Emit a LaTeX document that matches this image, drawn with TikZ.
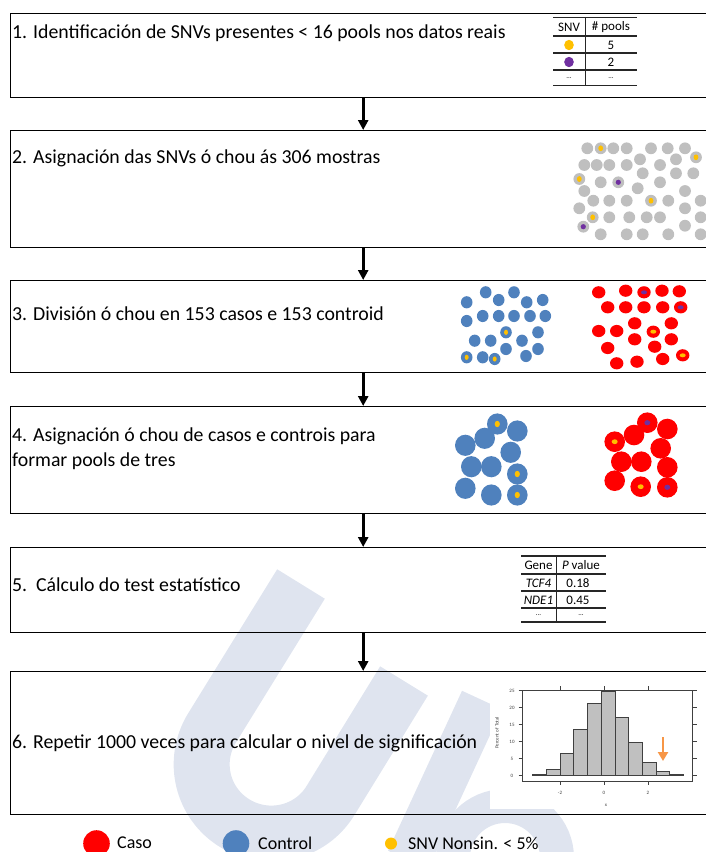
\documentclass[tikz,border=0pt]{standalone}
\usepackage{fontspec}
\setmainfont{Carlito}
\usetikzlibrary{arrows.meta}
\definecolor{casored}{HTML}{FF0000}
\definecolor{ctrlblue}{HTML}{4F81BD}
\definecolor{poolgrey}{HTML}{BFBFBF}
\definecolor{snvyellow}{HTML}{FFC000}
\definecolor{snvpurple}{HTML}{7030A0}
\definecolor{sigorange}{HTML}{F79646}
\definecolor{wmark}{HTML}{DFE4EF}
\definecolor{barfill}{HTML}{C0C0C0}
\definecolor{axisgrey}{HTML}{404040}

\begin{document}
\begin{tikzpicture}[x=1pt,y=-1pt,
  stage/.style={draw=black, line width=1.4pt, minimum width=705pt, anchor=north west, inner sep=0pt},
  flow/.style={-{Triangle[length=10pt,width=10pt]}, line width=2.6pt},
  steptext/.style={anchor=west, inner sep=0pt, font=\fontsize{19.8}{25}\selectfont, align=left},
  tabtext/.style={inner sep=0pt, font=\fontsize{13}{15}\selectfont},
  tabrule/.style={line width=1.3pt, black!85},
  tabsep/.style={line width=0.8pt, black!85},
  legtext/.style={anchor=west, inner sep=0pt, font=\fontsize{18}{20}\selectfont},
  ticklab/.style={inner sep=0pt, font=\fontsize{5}{6}\selectfont, text=axisgrey},
]
\useasboundingbox (0,0) rectangle (705,852);

% faint logo in the background
\draw[wmark, line width=56pt] (301,584) -- (212,728)
  .. controls (191.9,760.7) and (202,803.1) .. (234.7,823.2)
  .. controls (267.4,843.3) and (310.3,833.4) .. (330.4,800.7)
  -- (404,681);
\draw[wmark, line width=44pt] (482,700) -- (408,860);
\draw[wmark, line width=34pt] (505,858) circle (52pt);

% stage boxes
\node[stage, minimum height=84pt]  (s1) at (10,13)  {};
\node[stage, minimum height=117pt] (s2) at (10,130) {};
\node[stage, minimum height=92pt]  (s3) at (10,280) {};
\node[stage, minimum height=107pt] (s4) at (10,406) {};
\node[stage, minimum height=85pt]  (s5) at (10,547) {};
\node[stage, minimum height=143pt] (s6) at (10,671) {};

\draw[flow] (s1.south) -- (s2.north);
\draw[flow] (s2.south) -- (s3.north);
\draw[flow] (s3.south) -- (s4.north);
\draw[flow] (s4.south) -- (s5.north);
\draw[flow] (s5.south) -- (s6.north);

% stage texts
\node[steptext] (t1) at (12,33)  {1. Identificación de SNVs presentes < 16 pools nos datos reais};
\node[steptext] (t2) at (12,158) {2. Asignación das SNVs ó chou ás 306 mostras};
\node[steptext] (t3) at (12,314) {3. División ó chou en 153 casos e 153 controid};
\node[steptext] (t4) at (12,449) {4. Asignación ó chou de casos e controis para\\formar pools de tres};
\node[steptext] (t5) at (12,585) {5.\ \ Cálculo do test estatístico};
\node[steptext] (t6) at (12,743.5) {6. Repetir 1000 veces para calcular o nivel de significación};

% stage 1: SNV table
\draw[tabrule] (553,17.5) -- (637,17.5);
\draw[tabrule] (553,36) -- (637,36);
\draw[tabrule] (553,53) -- (637,53);
\draw[tabrule] (553,70) -- (637,70);
\draw[tabrule] (553,85.5) -- (637,85.5);
\draw[tabsep] (585,17.5) -- (585,85.5);
\node[tabtext] (h1) at (569,27) {SNV};
\node[tabtext] (h2) at (611,27) {\# pools};
\fill[snvyellow] (569,45) ellipse [x radius=4.8pt, y radius=5.2pt];
\node[tabtext] (v1) at (611,45) {5};
\fill[snvpurple] (569,62) ellipse [x radius=4.8pt, y radius=5.2pt];
\node[tabtext] (v2) at (611,62) {2};
\node[tabtext, font=\fontsize{7}{8}\selectfont] (e1) at (569,78) {...};
\node[tabtext, font=\fontsize{7}{8}\selectfont] (e2) at (611,78) {...};

% stage 2: 306 samples
\foreach \x/\y in {587.3/148.3, 600.7/148.3, 613.3/148.3, 626.7/148.3, 651/148.3, 667.7/148.3, 685/148.3,
  640/159.3, 676/159.3, 696/157.3,
  584.3/165, 596.7/165, 609.3/165, 626.7/165, 660/165,
  642.7/173.3, 676/173.3, 693.3/173.3,
  579.3/179, 600.7/182.3, 618.3/182.3, 660/182.3,
  637.7/188.3, 685/191, 584.3/191,
  593.3/200.7, 609.3/200.7, 626.7/200.7, 651/200.7, 668.3/200.7, 700.7/200.7,
  579.3/208.3, 685/208.3,
  592.7/217.3, 609.3/217.3, 629.3/217.3, 646.7/217.3, 660/217.3, 700.7/217.3,
  583.3/226.7, 685/225.7,
  600.7/234.3, 626.7/234.3, 642.7/234.3, 668.3/234.3, 700.7/234.3}
  \fill[poolgrey] (\x,\y) circle (5.9pt);
\foreach \x/\y in {600.7/148.3, 696/157.3, 579.3/179, 651/200.7, 592.7/217.3}
  \fill[snvyellow] (\x,\y) ellipse [x radius=2.4pt, y radius=2.9pt];
\foreach \x/\y in {618.3/182.3, 583.3/226.7}
  \fill[snvpurple] (\x,\y) circle (2.6pt);

% stage 3: controls and cases
\foreach \x/\y in {485.7/292.3, 514/292.3, 466.7/302.3, 498.7/300, 526.7/302.3, 542.7/300,
  466.7/321, 482.7/316, 498.7/316, 514/316, 530/316, 545.3/316,
  506/332.3, 538/332.3, 474.7/340.7, 490.7/340.7, 522/340.7, 506/349, 538/349,
  466.7/357.3, 482.7/357.3, 494.7/359, 526/356}
  \fill[ctrlblue] (\x,\y) ellipse [x radius=5.8pt, y radius=6.1pt];
\foreach \x/\y in {506/332.3, 466.7/357.3, 494.7/359}
  \fill[snvyellow] (\x,\y) ellipse [x radius=2pt, y radius=2.6pt];
\foreach \x/\y in {598.7/292.3, 625.7/290.7, 644/292.3, 662/290.7, 679.3/291.3,
  607.7/307.3, 625.7/307.3, 644/307.3, 662.7/307.3, 680.7/307.3,
  634.7/323.3, 671.3/323.3, 598.7/331, 616.7/331, 653.3/331.7,
  634.7/339.3, 671.3/339.3, 607.7/348, 654.7/346.7,
  616.7/363.3, 637/361.7, 662.7/359, 682.7/355.3}
  \fill[casored] (\x,\y) ellipse [x radius=6.7pt, y radius=6.1pt];
\foreach \x/\y in {653.3/331.7, 682.7/355.3}
  \fill[snvyellow] (\x,\y) ellipse [x radius=3pt, y radius=2pt];
\foreach \x/\y in {644/292.3, 680.7/307.3}
  \fill[snvpurple] (\x,\y) ellipse [x radius=3pt, y radius=2pt];

% stage 4: pools of three
\foreach \x/\y in {497.3/424, 484.7/438.3, 517.3/431, 465.3/445.3, 510.7/452.3,
  471.3/466.7, 491.3/466.7, 517.3/474, 465.3/488.3, 491.3/495, 517.3/495}
  \fill[ctrlblue] (\x,\y) ellipse [x radius=10.3pt, y radius=10.6pt];
\foreach \x/\y in {497.3/424, 517.3/474, 517.3/495}
  \fill[snvyellow] (\x,\y) ellipse [x radius=2.6pt, y radius=3.2pt];
\foreach \x/\y in {647.3/422.7, 634/435, 667.3/429, 614.7/441.7, 660.7/448.3,
  621.3/461.7, 641.3/461.7, 667.3/467.3, 614.7/480.7, 640.7/486.7, 667.3/487.3}
  \fill[casored] (\x,\y) circle (10.3pt);
\foreach \x/\y in {614.7/441.7, 640.7/486.7}
  \fill[snvyellow] (\x,\y) ellipse [x radius=3pt, y radius=2.4pt];
\foreach \x/\y in {647.3/422.7, 667.3/487.3}
  \fill[snvpurple] (\x,\y) ellipse [x radius=3pt, y radius=2.6pt];

% stage 5: gene table
\draw[tabrule] (521,556) -- (606,556);
\draw[tabrule] (521,574) -- (606,574);
\draw[tabrule] (521,591) -- (606,591);
\draw[tabrule] (521,608) -- (606,608);
\draw[tabrule] (521,622) -- (606,622);
\draw[tabsep] (556,556) -- (556,622);
\node[tabtext] (g0) at (538.5,565.5) {Gene};
\node[tabtext] (p0) at (581,565.5) {\textit{P} value};
\node[tabtext] (g1) at (538.5,583) {\textit{TCF4}};
\node[tabtext] (p1) at (578,583) {0.18};
\node[tabtext] (g2) at (538.5,600) {\textit{NDE1}};
\node[tabtext] (p2) at (578,600) {0.45};
\node[tabtext, font=\fontsize{7}{8}\selectfont] (g3) at (538.5,615.5) {...};
\node[tabtext, font=\fontsize{7}{8}\selectfont] (p3) at (581,615.5) {...};

% stage 6: permutation histogram
\fill[white] (490,680) rectangle (705,809);
\foreach \l/\r/\t in {532.3/546.3/774, 546.3/560/769.7, 560/573.7/753, 573.7/587.3/729.3,
  587.3/601/703.3, 601/615/691.7, 615/628.7/717.7, 628.7/642.3/742,
  642.3/656/762, 656/669.7/771.7, 669.7/683.7/774.3}
  \filldraw[fill=barfill, draw=axisgrey, line width=0.7pt] (\l,775.7) rectangle (\r,\t);
\draw[axisgrey, line width=0.6pt] (522.7,690) rectangle (692.3,781);
\foreach \v/\y in {0/775.7, 5/758.7, 10/741.7, 15/724.7, 20/707.7, 25/690.7}{
  \draw[axisgrey, line width=0.5pt] (518.5,\y) -- (522.7,\y);
  \draw[axisgrey, line width=0.5pt] (692.3,\y) -- (696.5,\y);
  \node[ticklab] at (512,\y) {\v};
}
\foreach \v/\x in {-2/560, 0/604, 2/648}{
  \draw[axisgrey, line width=0.5pt] (\x,781) -- (\x,785);
  \draw[axisgrey, line width=0.5pt] (\x,690) -- (\x,686);
  \node[ticklab] at (\x,793) {\v};
}
\node[ticklab] (xl) at (606,805) {x};
\node[ticklab, rotate=90] (yl) at (497,733) {Percent of Total};
\coordinate (sigtop) at (663,737);
\coordinate (sigtip) at (663,761);
\draw[sigorange, line width=2.8pt, -{Triangle[length=9pt,width=10pt]}] (sigtop) -- (sigtip);

% legend
\fill[casored] (96.5,843.5) circle (13.3pt);
\node[legtext] (lc) at (117,843) {Caso};
\fill[ctrlblue] (236,843.5) circle (13.3pt);
\node[legtext] (lk) at (258,843) {Control};
\fill[snvyellow] (391,843.5) circle (6pt);
\node[legtext] (ls) at (408,843) {SNV Nonsin. < 5\%};
\end{tikzpicture}
\end{document}
